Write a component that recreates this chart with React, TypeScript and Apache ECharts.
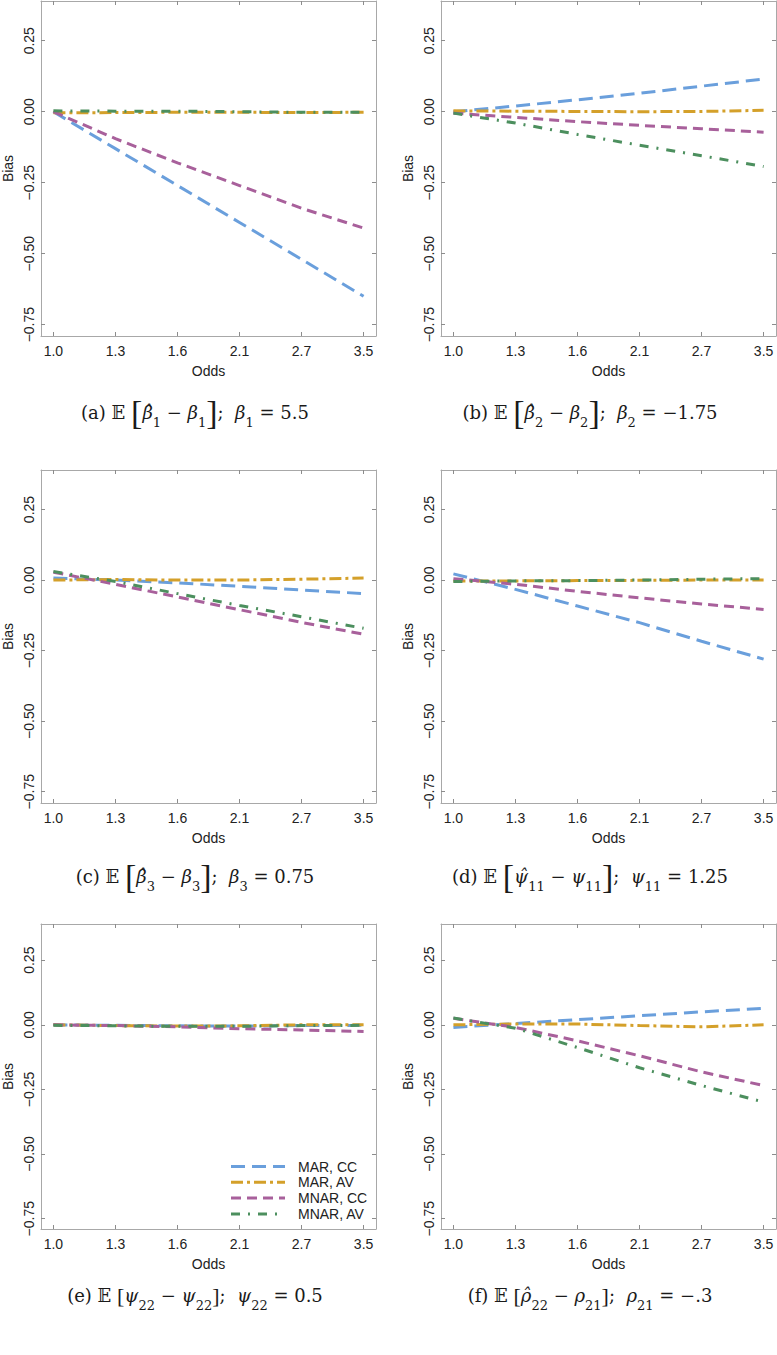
import React, { useEffect, useRef } from "react";
import * as echarts from "echarts";

// ---------- data ----------
const oddsLabels = ["1.0", "1.3", "1.6", "2.1", "2.7", "3.5"];
const oddsIndex = [0, 1, 2, 3, 4, 5];
const yTicks = [-0.75, -0.5, -0.25, 0, 0.25];
const seriesNames = ["MAR, CC", "MAR, AV", "MNAR, CC", "MNAR, AV"];

// (a) beta1
const aMarCc = [0, -0.13, -0.26, -0.39, -0.52, -0.65];
const aMarAv = [-0.004, -0.003, -0.002, -0.002, -0.003, -0.002];
const aMnarCc = [0, -0.095, -0.18, -0.26, -0.34, -0.41];
const aMnarAv = [0.003, 0.002, 0.002, 0.0, -0.002, -0.002];
// (b) beta2
const bMarCc = [0, 0.02, 0.042, 0.065, 0.09, 0.115];
const bMarAv = [0.003, 0.002, 0.001, 0.0, 0.001, 0.005];
const bMnarCc = [-0.005, -0.02, -0.035, -0.048, -0.06, -0.072];
const bMnarAv = [-0.005, -0.04, -0.08, -0.118, -0.155, -0.193];
// (c) beta3
const cMarCc = [0.007, 0.0, -0.01, -0.022, -0.035, -0.048];
const cMarAv = [0.0, 0.002, 0.0, 0.0, 0.003, 0.007];
const cMnarCc = [0.028, -0.015, -0.06, -0.105, -0.15, -0.192];
const cMnarAv = [0.03, -0.005, -0.048, -0.09, -0.13, -0.171];
// (d) psi11
const dMarCc = [0.022, -0.033, -0.092, -0.151, -0.217, -0.28];
const dMarAv = [-0.003, -0.003, -0.002, -0.001, 0.0, 0.0];
const dMnarCc = [0.005, -0.015, -0.04, -0.063, -0.085, -0.104];
const dMnarAv = [-0.005, -0.003, -0.002, 0.0, 0.003, 0.005];
// (e) psi22
const eMarCc = [0.0, -0.002, -0.004, -0.005, -0.003, -0.002];
const eMarAv = [0.0, -0.003, -0.005, -0.004, 0.0, 0.0];
const eMnarCc = [0.0, -0.003, -0.008, -0.015, -0.02, -0.026];
const eMnarAv = [-0.002, -0.004, -0.006, -0.006, -0.003, -0.002];
// (f) rho
const fMarCc = [-0.01, 0.005, 0.02, 0.035, 0.05, 0.064];
const fMarAv = [0.0, 0.003, 0.003, -0.003, -0.008, 0.0];
const fMnarCc = [0.025, -0.01, -0.062, -0.12, -0.182, -0.235];
const fMnarAv = [0.026, -0.013, -0.088, -0.166, -0.235, -0.299];

const panelData = [
  [aMarCc, aMarAv, aMnarCc, aMnarAv],
  [bMarCc, bMarAv, bMnarCc, bMnarAv],
  [cMarCc, cMarAv, cMnarCc, cMnarAv],
  [dMarCc, dMarAv, dMnarCc, dMnarAv],
  [eMarCc, eMarAv, eMnarCc, eMnarAv],
  [fMarCc, fMarAv, fMnarCc, fMnarAv],
];

const E = "\u{1D53C}";
const captions = [
  `{t|(a) ${E} }{b|[}{g|\u03B2\u0302}{sb|1}{t| \u2212 }{g|\u03B2}{sb|1}{b|]}{t|;  }{g|\u03B2}{sb|1}{t| = 5.5}`,
  `{t|(b) ${E} }{b|[}{g|\u03B2\u0302}{sb|2}{t| \u2212 }{g|\u03B2}{sb|2}{b|]}{t|;  }{g|\u03B2}{sb|2}{t| = \u22121.75}`,
  `{t|(c) ${E} }{b|[}{g|\u03B2\u0302}{sb|3}{t| \u2212 }{g|\u03B2}{sb|3}{b|]}{t|;  }{g|\u03B2}{sb|3}{t| = 0.75}`,
  `{t|(d) ${E} }{b|[}{g|\u03C8\u0302}{sb|11}{t| \u2212 }{g|\u03C8}{sb|11}{b|]}{t|;  }{g|\u03C8}{sb|11}{t| = 1.25}`,
  `{t|(e) ${E} }{s|[}{g|\u03C8}{sb|22}{t| \u2212 }{g|\u03C8}{sb|22}{s|]}{t|;  }{g|\u03C8}{sb|22}{t| = 0.5}`,
  `{t|(f) ${E} }{s|[}{g|\u03C1\u0302}{sb|22}{t| \u2212 }{g|\u03C1}{sb|21}{s|]}{t|;  }{g|\u03C1}{sb|21}{t| = \u2212.3}`,
];

// ---------- styles / layout ----------
const colors = ["#6a9fdc", "#d4a02a", "#a8609b", "#4c8f5e"];
const dashes = [
  [14, 7],
  [12, 4, 3, 4],
  [10, 6],
  [9, 8, 2, 8],
];
const colLeft = [40, 441];
const gridW = 336;
const rowTop = [1, 470, 924];
const rowH = [335, 333, 305];
const captionX = [195, 590];
const captionY = [412, 876, 1295];
const frameColor = "#a8a8a8";
const sansFont = "Liberation Sans, Arial, Helvetica, sans-serif";
const serifFont = "DejaVu Serif, Liberation Serif, DejaVu Sans, serif";

const fmtY = (v: number) => {
  const s = Math.abs(v).toFixed(2);
  return v < 0 ? "\u2212" + s : s;
};

function buildOption() {
  const grid: any[] = [];
  const xAxis: any[] = [];
  const yAxis: any[] = [];
  const series: any[] = [];
  const graphic: any[] = [];

  for (let p = 0; p < 6; p++) {
    const col = p % 2;
    const row = Math.floor(p / 2);
    grid.push({
      left: colLeft[col],
      top: rowTop[row],
      width: gridW - (col === 1 ? 1 : 0),
      height: rowH[row],
      containLabel: false,
    });
    const tickStyle = { color: "#8c8c8c", width: 1 };
    const lineStyle = { color: frameColor, width: 1 };
    xAxis.push({
      type: "value",
      gridIndex: p,
      min: -0.2,
      max: 5.2,
      position: "bottom",
      axisLine: { show: true, onZero: false, lineStyle },
      axisTick: { show: true, inside: true, length: 4, customValues: oddsIndex, lineStyle: tickStyle },
      axisLabel: {
        show: true,
        customValues: oddsIndex,
        formatter: (v: number) => oddsLabels[Math.round(v)],
        fontFamily: sansFont,
        fontSize: 14,
        color: "#222",
        margin: 8,
      },
      splitLine: { show: false },
      name: "Odds",
      nameLocation: "middle",
      nameGap: 28,
      nameTextStyle: { fontFamily: sansFont, fontSize: 14, color: "#222" },
    });
    xAxis.push({
      type: "value",
      gridIndex: p,
      min: -0.2,
      max: 5.2,
      position: "top",
      axisLine: { show: true, onZero: false, lineStyle },
      axisTick: { show: true, inside: true, length: 4, customValues: oddsIndex, lineStyle: tickStyle },
      axisLabel: { show: false },
      splitLine: { show: false },
    });
    yAxis.push({
      type: "value",
      gridIndex: p,
      min: -0.79,
      max: 0.39,
      position: "left",
      axisLine: { show: true, onZero: false, lineStyle },
      axisTick: { show: true, inside: true, length: 4, customValues: yTicks, lineStyle: tickStyle },
      axisLabel: {
        show: true,
        customValues: yTicks,
        rotate: 90,
        formatter: fmtY,
        fontFamily: sansFont,
        fontSize: 14,
        color: "#222",
        margin: 5,
      },
      splitLine: { show: false },
      name: "Bias",
      nameLocation: "middle",
      nameGap: 26,
      nameRotate: 90,
      nameTextStyle: { fontFamily: sansFont, fontSize: 14, color: "#222" },
    });
    yAxis.push({
      type: "value",
      gridIndex: p,
      min: -0.79,
      max: 0.39,
      position: "right",
      axisLine: { show: true, onZero: false, lineStyle },
      axisTick: { show: true, inside: true, length: 4, customValues: yTicks, lineStyle: tickStyle },
      axisLabel: { show: false },
      splitLine: { show: false },
    });

    panelData[p].forEach((arr, s) => {
      series.push({
        type: "line",
        name: seriesNames[s],
        xAxisIndex: 2 * p,
        yAxisIndex: 2 * p,
        data: arr.map((v, k) => [oddsIndex[k], v]),
        symbol: "none",
        showSymbol: false,
        lineStyle: { color: colors[s], width: 3, type: dashes[s], cap: "butt" },
        itemStyle: { color: colors[s] },
        z: 3 + s,
      });
    });

    const base = { fontFamily: serifFont, fontSize: 18, fill: "#1a1a1a", color: "#1a1a1a", lineHeight: 34, verticalAlign: "middle" };
    graphic.push({
      type: "text",
      x: captionX[col],
      y: captionY[row],
      style: {
        text: captions[p],
        align: "center",
        verticalAlign: "middle",
        rich: {
          t: { ...base },
          g: { ...base, fontStyle: "italic" },
          sb: { ...base, fontSize: 13, lineHeight: 18, verticalAlign: "bottom" },
          b: { ...base, fontFamily: "Liberation Serif, serif", fontSize: 34 },
          s: { ...base, fontFamily: "Liberation Serif, serif", fontSize: 22 },
        },
      },
    });
  }

  // legend inside panel (e)
  const legX1 = 231;
  const legX2 = 285;
  const legTextX = 298;
  const legY0 = 1166.5;
  const legStep = 15.8;
  seriesNames.forEach((name, s) => {
    const y = legY0 + s * legStep;
    graphic.push({
      type: "line",
      shape: { x1: legX1, y1: y, x2: legX2, y2: y },
      style: { stroke: colors[s], lineWidth: 3, lineDash: dashes[s] },
      z: 10,
    });
    graphic.push({
      type: "text",
      x: legTextX,
      y: y,
      style: {
        text: name,
        fontFamily: sansFont,
        fontSize: 14,
        fill: "#222",
        align: "left",
        verticalAlign: "middle",
      },
      z: 10,
    });
  });

  return {
    animation: false,
    backgroundColor: "#ffffff",
    grid,
    xAxis,
    yAxis,
    series,
    graphic,
  };
}

export default function App() {
  const ref = useRef<HTMLDivElement>(null);
  useEffect(() => {
    if (!ref.current) return;
    const chart = echarts.init(ref.current, undefined, { renderer: "svg" });
    chart.setOption(buildOption());
    return () => chart.dispose();
  }, []);
  return (
    <div
      ref={ref}
      style={{ position: "absolute", left: 0, top: 0, width: 777, height: 1355, background: "#fff" }}
    />
  );
}
